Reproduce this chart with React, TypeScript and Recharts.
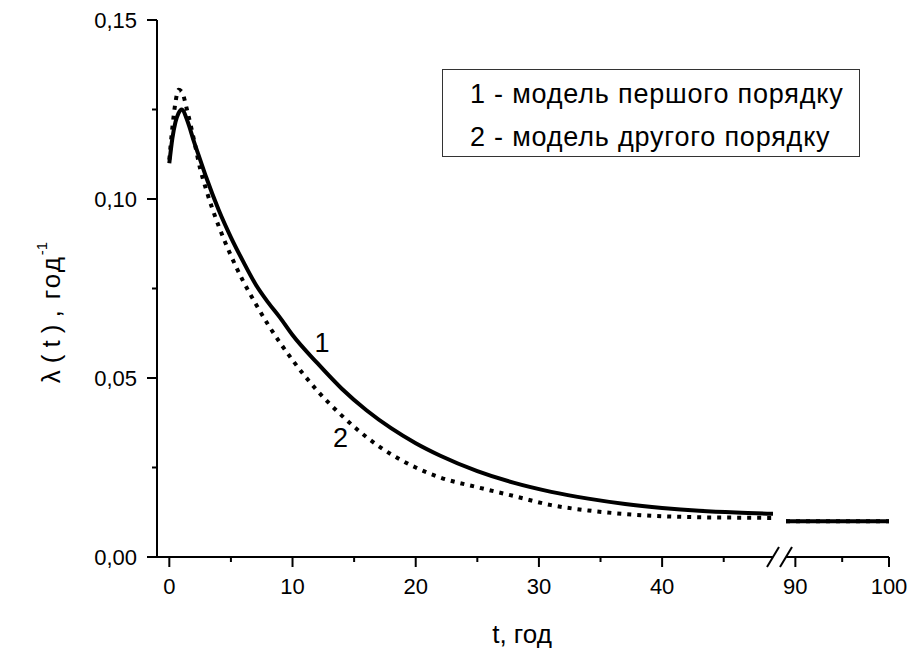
import React from "react";
import { LineChart, Line, XAxis, YAxis, Legend, ReferenceDot } from "recharts";

// t, years (left segment of the broken axis)
const T_LEFT = [
  0, 0.25, 0.5, 0.75, 1, 1.5, 2, 2.5, 3, 4, 5, 6, 7, 8, 9, 10, 12, 14, 16, 18,
  20, 22, 25, 28, 31, 34, 37, 40, 43, 46, 49,
];
// model of the first order (solid)
const MODEL_1 = [
  0.11, 0.117, 0.1215, 0.124, 0.125, 0.1215, 0.116, 0.111, 0.106, 0.097,
  0.0893, 0.0825, 0.0762, 0.0712, 0.0668, 0.062, 0.0542, 0.047, 0.041, 0.036,
  0.0318, 0.0283, 0.024, 0.0207, 0.0182, 0.0163, 0.0148, 0.0137, 0.0129,
  0.0124, 0.0121,
];
// model of the second order (dotted)
const MODEL_2 = [
  0.111, 0.12, 0.127, 0.1305, 0.13, 0.124, 0.1165, 0.1085, 0.1025, 0.0925,
  0.0842, 0.077, 0.0708, 0.065, 0.0598, 0.055, 0.0465, 0.0395, 0.0335, 0.0287,
  0.025, 0.0222, 0.0195, 0.017, 0.0145, 0.013, 0.012, 0.0114, 0.0111, 0.011,
  0.0109,
];

// right segment of the broken axis
const T_RIGHT = [89, 100];
const MODEL_1_RIGHT = [0.01, 0.01];
const MODEL_2_RIGHT = [0.01, 0.01];

const X_TICKS_LEFT = [0, 5, 10, 15, 20, 25, 30, 35, 40, 45];
const X_TICKS_RIGHT = [90, 95, 100];
const Y_TICKS = [0, 0.025, 0.05, 0.075, 0.1, 0.125, 0.15];

const NAME_1 = "1 - модель першого порядку";
const NAME_2 = "2 - модель другого порядку";

const leftData = T_LEFT.map((t, i) => ({ t, m1: MODEL_1[i], m2: MODEL_2[i] }));
const rightData = T_RIGHT.map((t, i) => ({
  t,
  m1: MODEL_1_RIGHT[i],
  m2: MODEL_2_RIGHT[i],
}));

const FONT = "'Liberation Sans', Arial, sans-serif";

function XTick(props: any) {
  const { x, y, payload } = props;
  const major = payload.value % 10 === 0;
  return (
    <g>
      <line x1={x} x2={x} y1={y} y2={y + (major ? 10 : 5)} stroke="#000" strokeWidth={2} />
      {major && (
        <text x={x} y={y + 37} textAnchor="middle" fontSize={22} fontFamily={FONT} fill="#000">
          {payload.value}
        </text>
      )}
    </g>
  );
}

function YTick(props: any) {
  const { x, y, payload } = props;
  const major = Math.round(payload.value * 1000) % 50 === 0;
  return (
    <g>
      <line x1={x} x2={x - (major ? 10 : 5)} y1={y} y2={y} stroke="#000" strokeWidth={2} />
      {major && (
        <text x={x - 20} y={y + 8} textAnchor="end" fontSize={22} fontFamily={FONT} fill="#000">
          {payload.value.toFixed(2).replace(".", ",")}
        </text>
      )}
    </g>
  );
}

function YTitle(props: any) {
  const { viewBox } = props;
  const cx = viewBox.x + 60;
  const cy = viewBox.y + viewBox.height / 2 + 24;
  return (
    <text
      transform={`translate(${cx},${cy}) rotate(-90)`}
      textAnchor="middle"
      fontSize={26}
      fontFamily={FONT}
      fill="#000"
    >
      <tspan letterSpacing={7}>λ(t)</tspan>
      <tspan letterSpacing={2}>, год</tspan>
      <tspan fontSize={15} dy={-13}>-1</tspan>
    </text>
  );
}

function XTitle(props: any) {
  const { viewBox } = props;
  return (
    <text
      x={viewBox.x + 365}
      y={viewBox.y + 86}
      textAnchor="middle"
      fontSize={26}
      fontFamily={FONT}
      fill="#000"
    >
      t, год
    </text>
  );
}

function LegendBox(props: any) {
  const { payload } = props;
  return (
    <div
      style={{
        boxSizing: "border-box",
        border: "1px solid #333",
        width: 418,
        height: 88,
        paddingLeft: 27,
        paddingTop: 3,
        fontFamily: FONT,
        fontSize: 27,
        letterSpacing: "0.8px",
        lineHeight: "43px",
        whiteSpace: "nowrap",
        color: "#000",
        background: "#fff",
      }}
    >
      {(payload || []).map((p: any) => (
        <div key={p.value}>{p.value}</div>
      ))}
    </div>
  );
}

export default function App() {
  return (
    <div style={{ position: "absolute", left: 0, top: 0, width: 912, height: 650, background: "#fff" }}>
      <LineChart
        width={912}
        height={650}
        data={leftData}
        margin={{ top: 20, right: 139, bottom: 0, left: 0 }}
        style={{ position: "absolute", left: 0, top: 0 }}
      >
        <XAxis
          dataKey="t"
          type="number"
          domain={[-1, 49]}
          allowDataOverflow
          ticks={X_TICKS_LEFT}
          tick={<XTick />}
          tickSize={0}
          tickMargin={0}
          interval={0}
          height={93}
          axisLine={{ stroke: "#000", strokeWidth: 2 }}
          label={<XTitle />}
        />
        <YAxis
          type="number"
          domain={[0, 0.15]}
          allowDataOverflow
          ticks={Y_TICKS}
          tick={<YTick />}
          tickSize={0}
          tickMargin={0}
          interval={0}
          width={157}
          axisLine={{ stroke: "#000", strokeWidth: 2 }}
          label={<YTitle />}
        />
        <Legend
          layout="horizontal"
          verticalAlign="middle"
          align="center"
          content={<LegendBox />}
          wrapperStyle={{ left: 442, top: 69, width: 418, height: 88 }}
        />
        <Line
          dataKey="m2"
          name={NAME_2}
          type="monotone"
          stroke="#000"
          strokeWidth={4}
          strokeDasharray="4 6"
          dot={false}
          isAnimationActive={false}
        />
        <Line
          dataKey="m1"
          name={NAME_1}
          type="monotone"
          stroke="#000"
          strokeWidth={4}
          dot={false}
          isAnimationActive={false}
        />
        <ReferenceDot
          x={12.4}
          y={0.06}
          r={1}
          fill="none"
          stroke="none"
          ifOverflow="visible"
          label={{ value: "1", fontSize: 27, fill: "#000", fontFamily: FONT }}
        />
        <ReferenceDot
          x={13.9}
          y={0.0335}
          r={1}
          fill="none"
          stroke="none"
          ifOverflow="visible"
          label={{ value: "2", fontSize: 27, fill: "#000", fontFamily: FONT }}
        />
      </LineChart>

      <LineChart
        width={912}
        height={650}
        data={rightData}
        margin={{ top: 20, right: 23, bottom: 0, left: 786 }}
        style={{ position: "absolute", left: 0, top: 0 }}
      >
        <XAxis
          dataKey="t"
          type="number"
          domain={[89, 100]}
          allowDataOverflow
          ticks={X_TICKS_RIGHT}
          tick={<XTick />}
          tickSize={0}
          tickMargin={0}
          interval={0}
          height={93}
          axisLine={{ stroke: "#000", strokeWidth: 2 }}
        />
        <YAxis type="number" domain={[0, 0.15]} allowDataOverflow hide />
        <Line
          dataKey="m2"
          type="linear"
          stroke="#000"
          strokeWidth={4}
          strokeDasharray="4 6"
          dot={false}
          isAnimationActive={false}
        />
        <Line
          dataKey="m1"
          type="linear"
          stroke="#000"
          strokeWidth={4}
          dot={false}
          isAnimationActive={false}
        />
      </LineChart>

      {/* axis break marks */}
      <svg width={912} height={650} style={{ position: "absolute", left: 0, top: 0, pointerEvents: "none" }}>
        <line x1={767} y1={567} x2={779} y2={547} stroke="#000" strokeWidth={2} />
        <line x1={780} y1={567} x2={792} y2={547} stroke="#000" strokeWidth={2} />
      </svg>
    </div>
  );
}
